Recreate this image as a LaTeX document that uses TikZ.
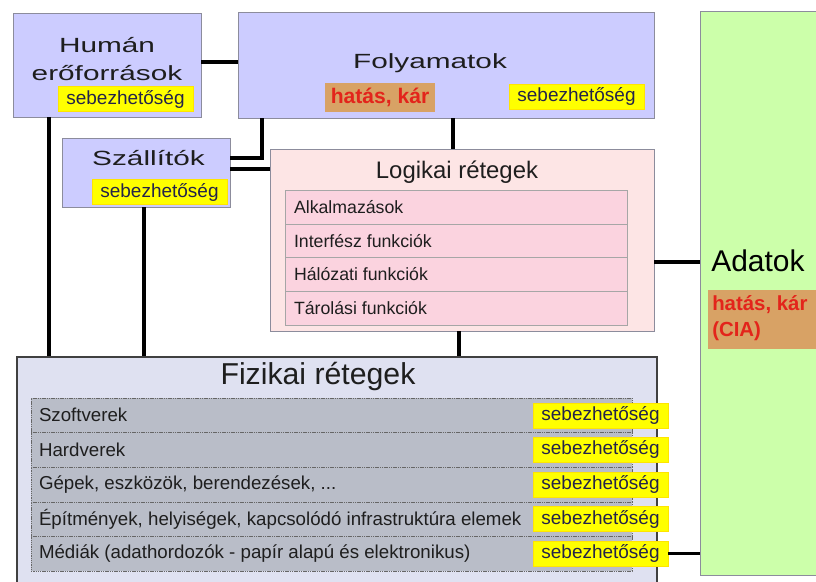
\documentclass[tikz,border=0pt]{standalone}
\usepackage{fontspec}
\setmainfont{Liberation Sans}
\newfontfamily\widefont{Liberation Sans}[FakeStretch=1.45]
\usepackage{xcolor}
\definecolor{lavender}{HTML}{CCCCFF}
\definecolor{pinkbg}{HTML}{FDE5E5}
\definecolor{pinkrow}{HTML}{FBD3DF}
\definecolor{greenbg}{HTML}{CCFFAA}
\definecolor{fizbg}{HTML}{DFE1F1}
\definecolor{fizrow}{HTML}{B9BDC8}
\definecolor{vuln}{HTML}{FFFF00}
\definecolor{impact}{HTML}{D8A265}
\definecolor{impacttext}{HTML}{E3241B}
\definecolor{textdark}{HTML}{1E1E1E}
\definecolor{vulntext}{HTML}{23234A}
\definecolor{edge}{HTML}{8C8C9C}
\newlength\px
\setlength\px{0.025cm}

\begin{document}
\begin{tikzpicture}[
    x=0.025cm, y=-0.025cm,
    box/.style={draw=edge, fill=#1, inner sep=0pt, line width=0.6pt},
    title/.style={text=textdark, inner sep=0pt, anchor=base, font=\widefont\fontsize{14.6}{19.8}\selectfont},
    vulnbox/.style={draw=vuln!80!orange, fill=vuln, inner sep=0pt, text=vulntext,
                    minimum width=135\px, minimum height=25\px,
                    font=\fontsize{13.5}{15}\selectfont},
    impactbox/.style={fill=impact, inner sep=0pt, text=impacttext,
                      font=\bfseries\fontsize{15}{17}\selectfont},
    logrow/.style={draw=gray!70, fill=pinkrow, inner sep=0pt,
                   minimum width=342\px, minimum height=34\px},
    fizrow/.style={draw=gray!80!black, dash pattern=on 1pt off 0.6pt, fill=fizrow,
                   inner sep=0pt, minimum width=601\px, minimum height=34.6\px},
    rowtext/.style={anchor=west, inner sep=0pt, text=textdark},
    link/.style={draw=black, line width=2.4pt},
]
\clip (0,0) rectangle (816,581);

% Humán erőforrások
\node[box=lavender, minimum width=188\px, minimum height=104\px] (hum) at (107,65) {};
\node[title, align=center] (humT) at (107,80) {Humán\\erőforrások};
\node[vulnbox] (humV) at (125.5,99) {sebezhetőség};

% Folyamatok
\node[box=lavender, minimum width=416\px, minimum height=106\px] (fol) at (446,65) {};
\node[title] (folT) at (430,68) {Folyamatok};
\node[impactbox, minimum width=110\px, minimum height=29\px] (folI) at (380,97.5) {hatás, kár};
\node[vulnbox] (folV) at (576.5,96.5) {sebezhetőség};

% Szállítók
\node[box=lavender, minimum width=168\px, minimum height=69\px] (szal) at (146,172.5) {};
\node[title] (szalT) at (148.5,165) {Szállítók};
\node[vulnbox] (szalV) at (159.5,192) {sebezhetőség};

% Logikai rétegek
\node[box=pinkbg, minimum width=384\px, minimum height=182\px] (log) at (462,240) {};
\node[inner sep=0pt, anchor=base, text=textdark, font=\fontsize{17}{20}\selectfont]
      (logT) at (457,178) {Logikai rétegek};
\node[logrow] (l1) at (456,207) {};
\node[logrow] (l2) at (456,241) {};
\node[logrow] (l3) at (456,274) {};
\node[logrow] (l4) at (456,308) {};
\foreach \n/\t in {l1/Alkalmazások, l2/Interfész funkciók, l3/Hálózati funkciók, l4/Tárolási funkciók}
    \node[rowtext, font=\fontsize{12.6}{14}\selectfont] at ([xshift=9\px]\n.west) {\t};

% Adatok
\node[box=greenbg, minimum width=130\px, minimum height=564\px] (adat) at (765,293) {};
\node[inner sep=0pt, anchor=base west, text=black, font=\fontsize{21.3}{24}\selectfont]
      (adatT) at (711,271) {Adatok};
\node[impactbox, minimum width=112\px, minimum height=59\px] (adatI) at (764,319.5) {};
\node[impactbox, anchor=north west, align=left, font=\bfseries\fontsize{14.5}{19}\selectfont]
      (adatIT) at (712,295) {hatás, kár\\(CIA)};

% Fizikai rétegek
\node[box=fizbg, draw=gray!50!black, line width=1pt, minimum width=640\px, minimum height=243\px]
      (fiz) at (337,478.5) {};
\node[inner sep=0pt, anchor=base, text=textdark, font=\fontsize{21.5}{24}\selectfont]
      (fizT) at (318,384) {Fizikai rétegek};
\foreach \i/\t in {1/Szoftverek, 2/Hardverek, 3/{Gépek, eszközök, berendezések, ...},
                   4/{Építmények, helyiségek, kapcsolódó infrastruktúra elemek},
                   5/{Médiák (adathordozók - papír alapú és elektronikus)}} {
    \node[fizrow] (f\i) at (331.5,380.7+34.6*\i) {};
    \node[rowtext, font=\fontsize{13.3}{15}\selectfont] at ([xshift=8\px]f\i.west) {\t};
    \node[vulnbox] (fV\i) at (600.5,380.7+34.6*\i) {sebezhetőség};
}

% Kapcsolatok
\draw[link] (hum.east |- 0,62) -- (fol.west |- 0,62);
\draw[link] (fol.south -| 262,0) |- (szal.east |- 0,158);
\draw[link] (szal.east |- 0,169) -- (log.west |- 0,169);
\draw[link] (fol.south -| 453,0) -- (log.north -| 453,0);
\draw[link] (log.south -| 459,0) -- (fiz.north -| 459,0);
\draw[link] (hum.south -| 49,0) -- (fiz.north -| 49,0);
\draw[link] (szal.south -| 144,0) -- (fiz.north -| 144,0);
\draw[link] (log.east |- 0,262) -- (adat.west |- 0,262);
\draw[link] (fV5.east) -- (adat.west |- fV5.east);

\end{tikzpicture}
\end{document}
